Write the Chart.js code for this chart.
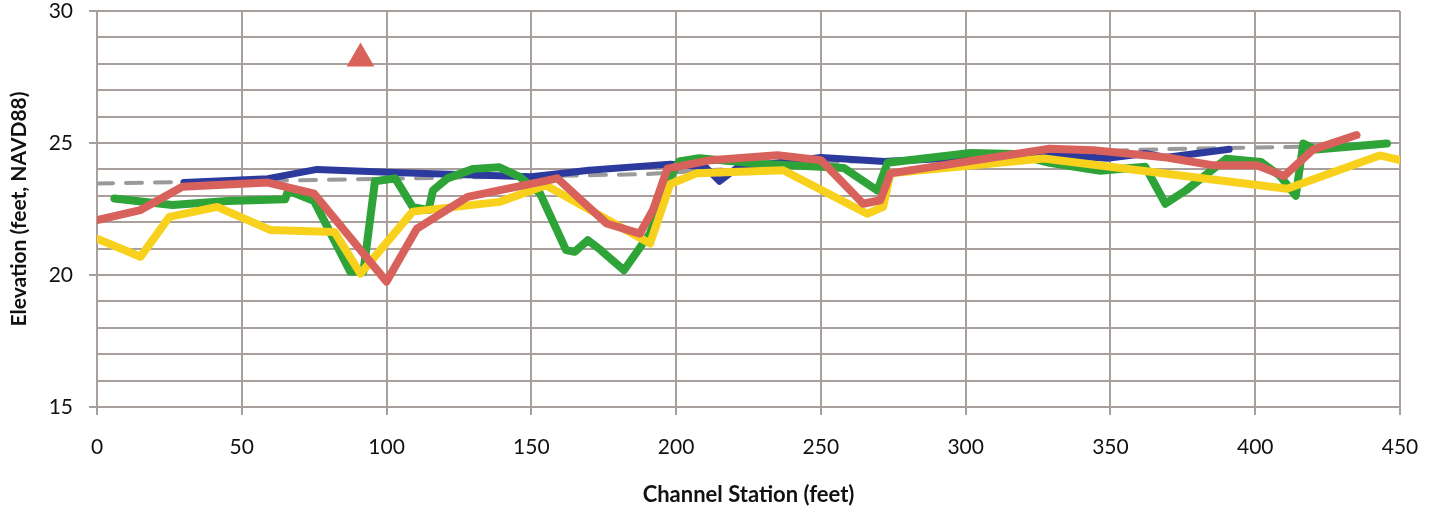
<!DOCTYPE html>
<html>
<head>
<meta charset="utf-8">
<script src="https://cdn.jsdelivr.net/npm/chart.js@4.4.0/dist/chart.umd.min.js"></script>
<style>
  html, body { margin: 0; padding: 0; background: #ffffff; }
  canvas { display: block; }
</style>
</head>
<body>
<canvas id="c" width="1440" height="514"></canvas>
<script>
// ---- Data ----
const xTicks = [0, 50, 100, 150, 200, 250, 300, 350, 400, 450];
const yMajorTicks = [15, 20, 25, 30];

const dashedStation = [0, 75, 190, 260, 330, 370, 440];
const dashedElev    = [23.47, 23.6, 23.82, 24.3, 24.65, 24.77, 24.9];

const blueStation = [30, 59, 76, 105, 150, 170, 198, 210, 215, 221, 250, 272, 300, 330, 349, 362, 369, 391];
const blueElev    = [23.5, 23.65, 24.0, 23.87, 23.72, 23.97, 24.2, 24.1, 23.55, 24.05, 24.45, 24.3, 24.45, 24.55, 24.42, 24.6, 24.45, 24.76];

const greenStation = [6, 26, 45, 65, 66, 75, 87.5, 92, 96, 103, 109, 114.5, 116, 121, 130, 139, 146, 153, 162, 165, 169.5, 174, 182, 191, 197, 201, 208, 230, 250, 258, 269.5, 273, 301.6, 317, 329, 346.5, 362, 369, 376, 390, 402, 408.6, 414, 416.6, 421, 445.5];
const greenElev    = [22.9, 22.65, 22.8, 22.87, 23.2, 22.8, 20.12, 20.12, 23.55, 23.66, 22.58, 22.46, 23.2, 23.66, 24.02, 24.08, 23.72, 23.09, 20.94, 20.88, 21.32, 20.94, 20.18, 21.58, 23.5, 24.3, 24.42, 24.2, 24.1, 24.05, 23.2, 24.25, 24.62, 24.58, 24.25, 23.95, 24.1, 22.7, 23.2, 24.4, 24.28, 23.75, 23.0, 24.98, 24.75, 24.98];

const yellowStation = [0, 15, 25, 41.5, 60, 82, 91, 109, 139, 155, 191, 198, 207, 237, 266, 271.5, 274, 327, 411, 443, 450];
const yellowElev    = [21.38, 20.69, 22.2, 22.58, 21.7, 21.63, 20.05, 22.4, 22.77, 23.4, 21.19, 23.45, 23.85, 23.97, 22.32, 22.58, 23.85, 24.41, 23.27, 24.53, 24.35];

const redStation = [0, 15, 29.5, 59, 75, 100, 110.5, 128, 159, 176, 187.5, 192, 197, 212, 235, 250, 264.6, 270.5, 274, 329, 344, 369.5, 385, 400.6, 410, 420, 435];
const redElev    = [22.08, 22.46, 23.34, 23.5, 23.08, 19.75, 21.76, 22.96, 23.66, 21.95, 21.57, 22.46, 24.03, 24.35, 24.54, 24.35, 22.7, 22.83, 23.85, 24.78, 24.73, 24.45, 24.16, 24.16, 23.75, 24.75, 25.3];

const markerStation = [91];
const markerElev    = [28.2];

// ---- Helpers ----
const pts = (xs, ys) => xs.map((x, i) => ({ x: x, y: ys[i] }));
const gridColor = '#a99f9c';
const fontFamily = 'Lato, "Open Sans", "DejaVu Sans", sans-serif';

// The big marker should not reserve extra padding around the plot area.
Chart.ScatterController.prototype.getMaxOverflow = function () { return 0; };

const lineStyle = (color, width, order) => ({
  borderColor: color,
  backgroundColor: color,
  borderWidth: width,
  pointRadius: 0,
  pointHoverRadius: 0,
  tension: 0,
  fill: false,
  borderJoinStyle: 'round',
  borderCapStyle: 'round',
  order: order
});

new Chart(document.getElementById('c'), {
  type: 'line',
  data: {
    datasets: [
      { type: 'scatter', label: 'Marker', data: pts(markerStation, markerElev), showLine: false,
        pointStyle: 'triangle', pointRadius: 16, pointHoverRadius: 16, pointBackgroundColor: '#d9625a',
        pointBorderColor: '#d9625a', pointBorderWidth: 0, order: 0 },
      Object.assign({ label: 'Red', data: pts(redStation, redElev) }, lineStyle('#d8625b', 8, 1)),
      Object.assign({ label: 'Yellow', data: pts(yellowStation, yellowElev) }, lineStyle('#f8d11c', 8, 2)),
      Object.assign({ label: 'Green', data: pts(greenStation, greenElev) }, lineStyle('#2da338', 8, 3)),
      Object.assign({ label: 'Blue', data: pts(blueStation, blueElev) }, lineStyle('#2c3a9d', 7, 4)),
      Object.assign({ label: 'Dashed', data: pts(dashedStation, dashedElev), borderDash: [16, 13] }, lineStyle('#9a9a9a', 4, 5))
    ]
  },
  options: {
    responsive: false,
    animation: false,
    events: [],
    layout: { padding: { top: 11, right: 40, left: 0, bottom: 0 } },
    plugins: { legend: { display: false }, tooltip: { enabled: false } },
    scales: {
      x: {
        type: 'linear',
        min: 0, max: 450,
        afterBuildTicks: (s) => { s.ticks = xTicks.map(v => ({ value: v })); },
        afterFit: (s) => { s.height = 107; s.paddingLeft = 0; s.paddingRight = 0; },
        ticks: { color: '#111111', font: { family: fontFamily, size: 21 }, padding: 20, maxRotation: 0, autoSkip: false },
        grid: { color: gridColor, lineWidth: 2, tickLength: 8, tickColor: gridColor, tickWidth: 2 },
        border: { color: gridColor, width: 2 },
        title: { display: true, text: 'Channel Station (feet)', color: '#111111',
          font: { family: fontFamily, size: 22, weight: 'bold' }, padding: { top: 0, bottom: 6 } }
      },
      y: {
        type: 'linear',
        min: 15, max: 30,
        afterFit: (s) => { s.width = 97; s.paddingTop = 0; s.paddingBottom = 0; },
        ticks: { stepSize: 1, autoSkip: false, color: '#111111', font: { family: fontFamily, size: 21 }, padding: 16,
          callback: (v) => yMajorTicks.includes(v) ? String(v) : '' },
        grid: { color: gridColor, lineWidth: 2, tickLength: 8, tickWidth: 2,
          tickColor: (ctx) => (ctx.tick && yMajorTicks.includes(ctx.tick.value)) ? gridColor : 'rgba(0,0,0,0)' },
        border: { color: gridColor, width: 2 },
        title: { display: true, text: 'Elevation (feet, NAVD88)', color: '#111111',
          font: { family: fontFamily, size: 21, weight: 'bold' }, padding: { top: 7, bottom: 0 } }
      }
    }
  }
});
</script>
</body>
</html>
